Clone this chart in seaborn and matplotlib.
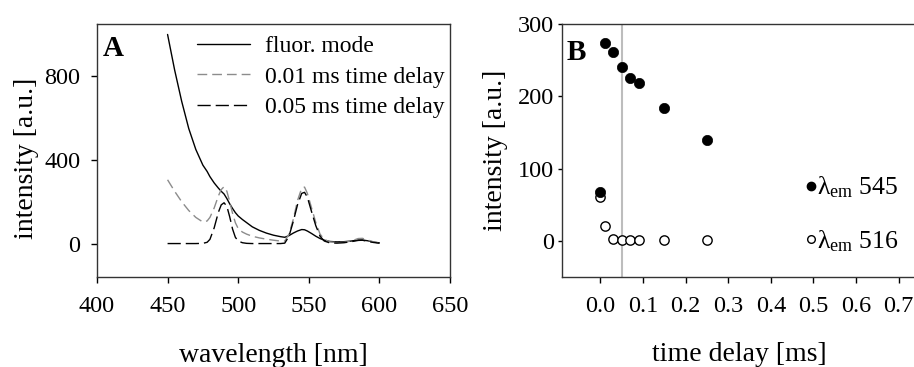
import matplotlib
matplotlib.use("Agg")
import matplotlib.pyplot as plt
from matplotlib.lines import Line2D
import seaborn as sns
import pandas as pd

# ---------------- data ----------------
wavelength = [450, 455, 460, 465, 470, 475, 478, 480, 483, 486, 488, 490, 492, 494,
              496, 498, 500, 503, 506, 510, 515, 520, 525, 530, 533, 536, 539, 542,
              545, 547, 549, 552, 555, 558, 561, 565, 570, 575, 580, 585, 588, 592,
              596, 600]
fluor_mode = [1000, 830, 680, 550, 450, 375, 345, 320, 290, 265, 250, 237, 215, 190,
              168, 148, 132, 115, 100, 80, 63, 50, 40, 33, 30, 38, 50, 60,
              67, 66, 60, 48, 35, 24, 16, 10, 8, 9, 12, 17, 17, 13,
              7, 3]
delay_001 = [305, 250, 200, 158, 125, 103, 108, 125, 170, 228, 258, 272, 250, 200,
             145, 100, 72, 55, 45, 35, 27, 21, 16, 12, 12, 45, 115, 205,
             265, 270, 240, 170, 100, 45, 20, 8, 5, 6, 12, 24, 25, 16,
             8, 3]
delay_005 = [0, 0, 0, 0, 0, 1, 6, 20, 75, 150, 185, 195, 178, 128,
             70, 30, 12, 4, 1, 0, 0, 0, 0, 0, 2, 35, 105, 185,
             240, 245, 222, 152, 85, 35, 12, 3, 2, 4, 9, 15, 16, 10,
             5, 2]
series_labels = ["fluor. mode", "0.01 ms time delay", "0.05 ms time delay"]

time_delay = [0.0, 0.01, 0.03, 0.05, 0.07, 0.09, 0.15, 0.25]
em545 = [68, 274, 261, 241, 225, 219, 184, 139]
em516 = [61, 21, 3, 1, 1, 1, 1, 1]
em_labels = ["λ$_{\\mathrm{em}}$ 545", "λ$_{\\mathrm{em}}$ 516"]
gate_delay = 0.05

xticks_a = [400, 450, 500, 550, 600, 650]
yticks_a = [0, 400, 800]
xticks_b = [0.0, 0.1, 0.2, 0.3, 0.4, 0.5, 0.6, 0.7]
yticks_b = [0, 100, 200, 300]

# ---------------- style ----------------
sns.set_theme(style="ticks")
plt.rcParams["font.family"] = ["Liberation Serif", "DejaVu Serif"]
plt.rcParams["mathtext.fontset"] = "custom"
plt.rcParams["mathtext.rm"] = "Liberation Serif"
plt.rcParams["mathtext.it"] = "Liberation Serif:italic"
plt.rcParams["mathtext.bf"] = "Liberation Serif:bold"
plt.rcParams["text.color"] = "black"
plt.rcParams["axes.labelcolor"] = "black"
plt.rcParams["xtick.color"] = "black"
plt.rcParams["ytick.color"] = "black"

TICK_FS = 17.5
LEG_FS = 17
LAB_FS = 20
GRAY = "#8c8c8c"

fig = plt.figure(figsize=(9.14, 3.67), dpi=100)
axA = fig.add_axes([0.1061, 0.2452, 0.3862, 0.6894])
axB = fig.add_axes([0.6149, 0.2452, 0.3892, 0.6894])

# ---------------- panel A ----------------
dfA = pd.DataFrame({"wl": wavelength, "fluor": fluor_mode,
                    "d1": delay_001, "d5": delay_005})
sns.lineplot(data=dfA, x="wl", y="fluor", ax=axA, color="black", linewidth=1.0,
             label=series_labels[0], sort=False)
sns.lineplot(data=dfA, x="wl", y="d1", ax=axA, color=GRAY, linewidth=1.0,
             linestyle=(0, (7, 3.6)), label=series_labels[1], sort=False)
sns.lineplot(data=dfA, x="wl", y="d5", ax=axA, color="black", linewidth=1.0,
             linestyle=(0, (9.5, 3.6)), label=series_labels[2], sort=False)

axA.set_xlim(400, 650)
axA.set_ylim(-160, 1050)
axA.set_xticks(xticks_a)
axA.set_yticks(yticks_a)
axA.set_xlabel("wavelength [nm]", fontsize=LAB_FS, color="black")
axA.set_ylabel("intensity [a.u.]", fontsize=LAB_FS, color="black")
axA.xaxis.set_label_coords(0.5, -0.262)
axA.yaxis.set_label_coords(-0.165, 0.47)
axA.tick_params(axis="x", direction="out", length=4, width=1, pad=10,
                labelsize=TICK_FS, colors="black")
axA.tick_params(axis="y", direction="out", length=4, width=1, pad=8,
                labelsize=TICK_FS, colors="black")
for s in axA.spines.values():
    s.set_visible(True)
    s.set_linewidth(1.0)
    s.set_color("#333333")
axA.text(0.017, 0.955, "A", transform=axA.transAxes, fontsize=21,
         fontweight="bold", va="top", ha="left", color="black")
legA = axA.legend(loc="upper right", bbox_to_anchor=(0.986, 0.953), frameon=False,
                  fontsize=LEG_FS, handlelength=2.26, handletextpad=0.64,
                  labelspacing=0.37, borderpad=0, borderaxespad=0)
for t in legA.get_texts():
    t.set_color("black")

# ---------------- panel B ----------------
dfB = pd.DataFrame({"t": time_delay, "e545": em545, "e516": em516})
axB.axvline(gate_delay, color="#bdbdbd", linewidth=1.5, zorder=0)
sns.scatterplot(data=dfB, x="t", y="e516", ax=axB, marker="o", s=45,
                facecolor="white", edgecolor="black", linewidth=1.0, zorder=3)
sns.scatterplot(data=dfB, x="t", y="e545", ax=axB, marker="o", s=55,
                color="black", edgecolor="black", linewidth=0.5, zorder=4)

axB.set_xlim(-0.09, 0.745)
axB.set_ylim(-50, 300)
axB.set_xticks(xticks_b)
axB.set_xticklabels([f"{v:.1f}" for v in xticks_b])
axB.set_yticks(yticks_b)
axB.set_xlabel("time delay [ms]", fontsize=LAB_FS, color="black")
axB.set_ylabel("intensity [a.u.]", fontsize=LAB_FS, color="black")
axB.xaxis.set_label_coords(0.497, -0.257)
axB.yaxis.set_label_coords(-0.152, 0.5)
axB.tick_params(axis="x", direction="out", length=4, width=1, pad=10,
                labelsize=TICK_FS, colors="black")
axB.tick_params(axis="y", direction="out", length=3, width=1, pad=3,
                labelsize=TICK_FS, colors="black")
for s in axB.spines.values():
    s.set_visible(True)
    s.set_linewidth(1.0)
    s.set_color("#333333")
axB.text(0.013, 0.94, "B", transform=axB.transAxes, fontsize=21,
         fontweight="bold", va="top", ha="left", color="black")
handles = [Line2D([], [], linestyle="none", marker="o", markersize=6,
                  markerfacecolor="black", markeredgecolor="black"),
           Line2D([], [], linestyle="none", marker="o", markersize=5.5,
                  markerfacecolor="white", markeredgecolor="black",
                  markeredgewidth=1.0)]
legB = axB.legend(handles, em_labels, loc="upper left",
                  bbox_to_anchor=(0.689, 0.405), frameon=False, fontsize=18.5,
                  handlelength=0.3, handletextpad=0.1, labelspacing=1.1,
                  borderpad=0, borderaxespad=0)
for t in legB.get_texts():
    t.set_color("black")

fig.savefig("out.png", dpi=100)
